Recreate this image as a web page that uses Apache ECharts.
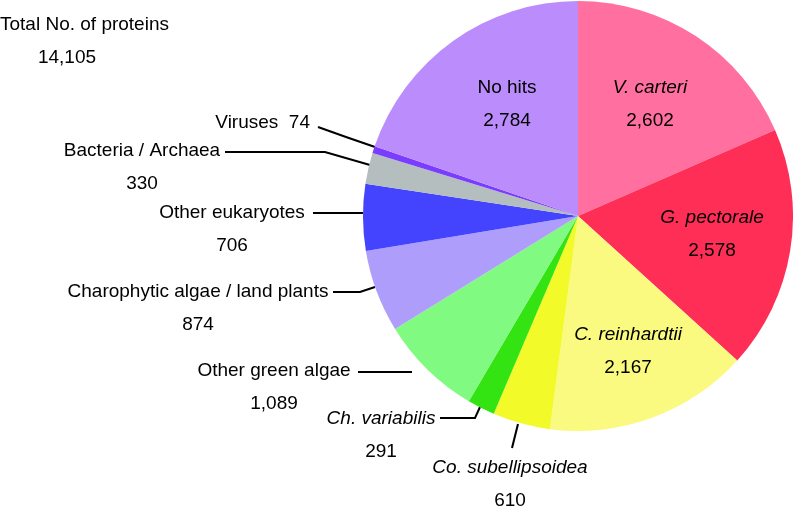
<!DOCTYPE html>
<html>
<head>
<meta charset="utf-8">
<script src="https://cdn.jsdelivr.net/npm/echarts@6/dist/echarts.min.js"></script>
<style>html,body{margin:0;padding:0;background:#fff}#c{width:793px;height:514px}</style>
</head>
<body>
<div id="c"></div>
<script>
// ---- data ----
const categories = ['V. carteri','G. pectorale','C. reinhardtii','Co. subellipsoidea','Ch. variabilis','Other green algae','Charophytic algae / land plants','Other eukaryotes','Bacteria / Archaea','Viruses','No hits'];
const values = [2602, 2578, 2167, 610, 291, 1089, 874, 706, 330, 74, 2784];
const italicNames = ['V. carteri','G. pectorale','C. reinhardtii','Co. subellipsoidea','Ch. variabilis'];
const insideNames = ['V. carteri','G. pectorale','C. reinhardtii','No hits'];
const totalLabel = 'Total No. of proteins';

// ---- styles / layout ----
const colors = ['#ff6fa0','#ff2e57','#fafa80','#f2fa2a','#33e312','#80fa80','#ae9dfa','#4444ff','#b4bebe','#7a3cff','#bb8cfb'];
const labelPos = {
  'V. carteri': {x:650, y:104},
  'G. pectorale': {x:712, y:234},
  'C. reinhardtii': {x:628, y:351},
  'No hits': {x:507, y:104},
  'Co. subellipsoidea': {x:510, y:484, line:[[512,448],[515,436],[518,424]]},
  'Ch. variabilis': {x:381, y:435, line:[[440,418],[475,418],[480,407]]},
  'Other green algae': {x:274, y:387, line:[[358,372],[385,372],[412,372]]},
  'Charophytic algae / land plants': {x:198, y:308, line:[[333,292],[360,292],[375,287]]},
  'Other eukaryotes': {x:232, y:229, line:[[313,213],[338,213],[363,213]]},
  'Bacteria / Archaea': {x:142, y:167, line:[[225,152],[325,152],[370,165]]},
  'Viruses': {x:310, y:123, align:'right', line:[[318,127],[346,137],[375,147]]}
};
const FS = 19;
const TC = '#000';
const fmt = v => v.toLocaleString('en-US');
const total = values.reduce((a,b)=>a+b,0);
const FONT = '"Liberation Sans", Arial, sans-serif';

const data = categories.map((name,i)=>{
  const inside = insideNames.includes(name);
  return {
    name, value: values[i],
    itemStyle: {color: colors[i]},
    label: {position: inside ? 'inside' : 'outside'},
    labelLine: {show: !inside}
  };
});

const chart = echarts.init(document.getElementById('c'), null, {renderer:'canvas'});
chart.setOption({
  animation: false,
  textStyle: {fontFamily: FONT},
  graphic: [
    {type:'text', x: 0, y: 25, style:{text: totalLabel, font: FS + 'px ' + FONT, fill:TC, verticalAlign:'middle'}},
    {type:'text', x: 67, y: 58, style:{text: fmt(total), font: FS + 'px ' + FONT, fill:TC, align:'center', verticalAlign:'middle'}}
  ],
  series: [{
    type: 'pie',
    center: [578, 216],
    radius: 215,
    startAngle: 90,
    clockwise: true,
    data,
    itemStyle: {borderWidth: 0},
    emphasis: {disabled: true},
    label: {
      color: TC,
      fontFamily: FONT,
      fontSize: FS,
      formatter: p => {
        if (p.name === 'Viruses') return '{r|' + p.name + '  ' + fmt(p.value) + '}';
        const s = italicNames.includes(p.name) ? 'i' : 'r';
        return '{' + s + '|' + p.name + '}\n{r|' + fmt(p.value) + '}';
      },
      rich: {
        i: {fontStyle:'italic', fontSize:FS, lineHeight:33, color:TC, fontFamily: FONT},
        r: {fontSize:FS, lineHeight:33, color:TC, fontFamily: FONT}
      }
    },
    labelLine: {lineStyle: {color:'#000', width: 2}, smooth: false},
    labelLayout: p => {
      const name = categories[p.dataIndex];
      const pos = labelPos[name];
      const o = {x: pos.x, y: pos.y, align: pos.align || 'center', verticalAlign: 'middle'};
      if (pos.line) o.labelLinePoints = pos.line;
      return o;
    }
  }]
});
</script>
</body>
</html>
